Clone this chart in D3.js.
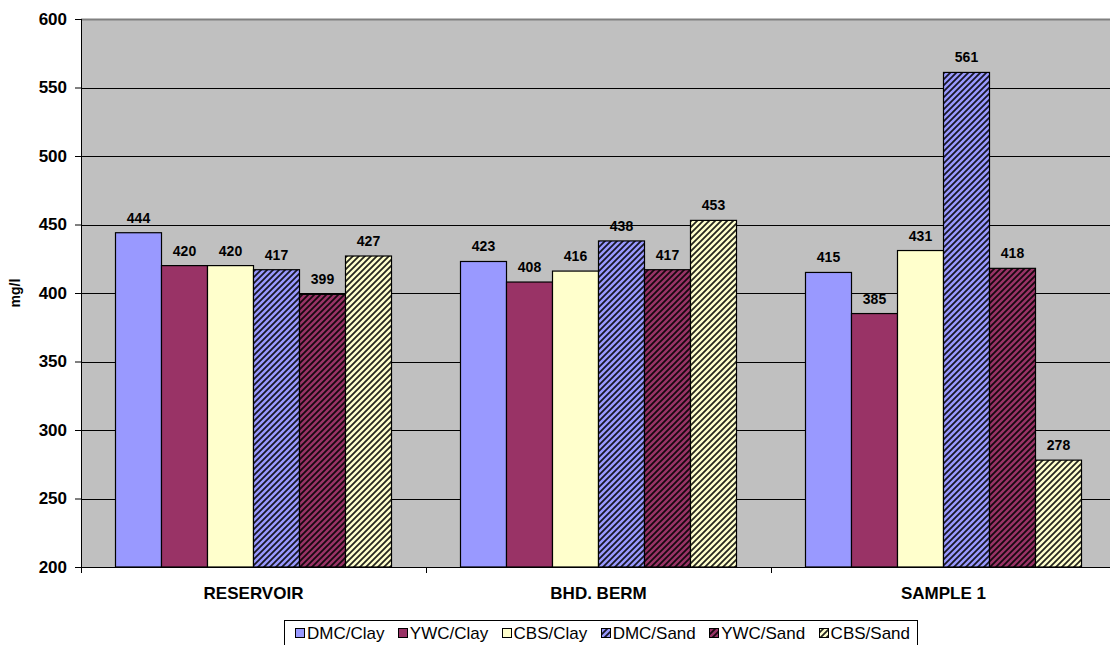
<!DOCTYPE html>
<html>
<head>
<meta charset="utf-8">
<script src="https://cdn.jsdelivr.net/npm/d3@7"></script>
<style>
  html, body { margin: 0; padding: 0; background: #fff; }
  svg { display: block; font-family: "Liberation Sans", Arial, sans-serif; }
</style>
</head>
<body>
<svg id="chart" width="1110" height="645"></svg>
<script>
const categories = ["RESERVOIR", "BHD. BERM", "SAMPLE 1"];
const seriesNames = ["DMC/Clay", "YWC/Clay", "CBS/Clay", "DMC/Sand", "YWC/Sand", "CBS/Sand"];
const dmcClay = [444, 423, 415];
const ywcClay = [420, 408, 385];
const cbsClay = [420, 416, 431];
const dmcSand = [417, 438, 561];
const ywcSand = [399, 417, 418];
const cbsSand = [427, 453, 278];
const yTicks = [200, 250, 300, 350, 400, 450, 500, 550, 600];
const yLabel = "mg/l";

const seriesValues = [dmcClay, ywcClay, cbsClay, dmcSand, ywcSand, cbsSand];
const seriesColors = ["#9999FF", "#993366", "#FFFFCC", "#9999FF", "#993366", "#FFFFCC"];
const seriesHatched = [false, false, false, true, true, true];

const svg = d3.select("#chart");
const margin = { left: 81, top: 19, right: 81 + 1035, bottom: 567 };

const defs = svg.append("defs");
seriesColors.forEach((c, i) => {
  if (!seriesHatched[i]) return;
  const p = defs.append("pattern")
    .attr("id", "hatch" + i)
    .attr("patternUnits", "userSpaceOnUse")
    .attr("width", 6).attr("height", 6);
  p.append("rect").attr("width", 6).attr("height", 6).attr("fill", c);
  p.append("path")
    .attr("d", "M-1,1 L1,-1 M0,6 L6,0 M5,7 L7,5")
    .attr("stroke", "#000").attr("stroke-width", 1.8).attr("stroke-opacity", 0.85);
});
const fillFor = i => seriesHatched[i] ? `url(#hatch${i})` : seriesColors[i];

const x0 = d3.scaleBand().domain(categories).range([margin.left, margin.right]).padding(0);
const x1 = d3.scaleBand().domain(seriesNames).range([x0.bandwidth() * 0.1, x0.bandwidth() * 0.9]).padding(0);
const y = d3.scaleLinear().domain([200, 600]).range([margin.bottom, margin.top]);

// plot background
svg.append("rect")
  .attr("x", margin.left).attr("y", margin.top)
  .attr("width", margin.right - margin.left).attr("height", margin.bottom - margin.top)
  .attr("fill", "#C0C0C0");
// top border
svg.append("line")
  .attr("x1", margin.left).attr("x2", margin.right)
  .attr("y1", margin.top + 0.5).attr("y2", margin.top + 0.5)
  .attr("stroke", "#808080").attr("stroke-width", 2);

// gridlines
svg.append("g").selectAll("line")
  .data(yTicks.filter(t => t !== 200 && t !== 600))
  .join("line")
  .attr("x1", margin.left).attr("x2", margin.right)
  .attr("y1", d => Math.round(y(d)) + 0.5).attr("y2", d => Math.round(y(d)) + 0.5)
  .attr("stroke", "#000").attr("stroke-width", 1);

// bars
const groups = svg.append("g").selectAll("g")
  .data(categories)
  .join("g")
  .attr("transform", d => `translate(${x0(d)},0)`);

groups.selectAll("rect")
  .data((c, ci) => seriesNames.map((s, si) => ({ s, si, v: seriesValues[si][ci] })))
  .join("rect")
  .attr("x", d => x1(d.s))
  .attr("y", d => y(d.v))
  .attr("width", x1.bandwidth())
  .attr("height", d => y(200) - y(d.v))
  .attr("fill", d => fillFor(d.si))
  .attr("stroke", "#000").attr("stroke-width", 1.2);

groups.selectAll("text")
  .data((c, ci) => seriesNames.map((s, si) => ({ s, si, v: seriesValues[si][ci] })))
  .join("text")
  .attr("x", d => x1(d.s) + x1.bandwidth() / 2)
  .attr("y", d => y(d.v) - 10)
  .attr("text-anchor", "middle")
  .attr("font-size", 14).attr("font-weight", "bold").attr("fill", "#000")
  .text(d => d.v);

// y axis
const yAxis = svg.append("g")
  .attr("transform", `translate(${margin.left},0)`)
  .call(d3.axisLeft(y).tickValues(yTicks).tickSize(6).tickPadding(8).tickFormat(d3.format("d")));
yAxis.select(".domain").attr("stroke", "#000").attr("d", `M0.5,${margin.top}V${margin.bottom}`);
yAxis.selectAll(".tick line").attr("stroke", "#000");
yAxis.selectAll(".tick text")
  .attr("font-size", 17).attr("font-weight", "bold").attr("fill", "#000")
  .attr("font-family", "Liberation Sans, Arial, sans-serif");

// x axis
const xAxis = svg.append("g")
  .attr("transform", `translate(0,${margin.bottom})`)
  .call(d3.axisBottom(x0).tickSize(0).tickPadding(20));
xAxis.select(".domain").attr("stroke", "#000").attr("d", `M${margin.left},0.5H${margin.right}`);
xAxis.selectAll(".tick text")
  .attr("font-size", 17).attr("font-weight", "bold").attr("fill", "#000")
  .attr("font-family", "Liberation Sans, Arial, sans-serif");
// category separator ticks
svg.append("g").selectAll("line")
  .data(categories.slice(1))
  .join("line")
  .attr("x1", d => Math.round(x0(d)) + 0.5).attr("x2", d => Math.round(x0(d)) + 0.5)
  .attr("y1", margin.bottom).attr("y2", margin.bottom + 6)
  .attr("stroke", "#000");
svg.append("line")
  .attr("x1", margin.left + 0.5).attr("x2", margin.left + 0.5)
  .attr("y1", margin.bottom).attr("y2", margin.bottom + 6)
  .attr("stroke", "#000");

// y label
svg.append("text")
  .attr("transform", `translate(20,${(margin.top + margin.bottom) / 2}) rotate(-90)`)
  .attr("text-anchor", "middle")
  .attr("font-size", 14).attr("font-weight", "bold")
  .text(yLabel);

// legend
const legend = svg.append("g");
const boxL = 284, boxR = 917, firstX = 295, lastEnd = 910, sw = 9, pre = 3;
legend.append("rect")
  .attr("x", boxL + 0.5).attr("y", 620.5).attr("width", boxR - boxL).attr("height", 30)
  .attr("fill", "#fff").attr("stroke", "#000").attr("stroke-width", 1);
const texts = seriesNames.map(s => legend.append("text")
  .attr("y", 639).attr("font-size", 17).attr("fill", "#000").text(s));
const widths = texts.map(t => t.node().getComputedTextLength());
const totalText = d3.sum(widths);
const gap = (lastEnd - firstX - totalText - seriesNames.length * (sw + pre)) / (seriesNames.length - 1);
let lx = firstX;
seriesNames.forEach((s, i) => {
  legend.append("rect")
    .attr("x", Math.round(lx) + 0.5).attr("y", 628.5).attr("width", sw).attr("height", sw)
    .attr("fill", fillFor(i)).attr("stroke", "#000").attr("stroke-width", 1);
  texts[i].attr("x", lx + sw + pre);
  lx += sw + pre + widths[i] + gap;
});
</script>
</body>
</html>
